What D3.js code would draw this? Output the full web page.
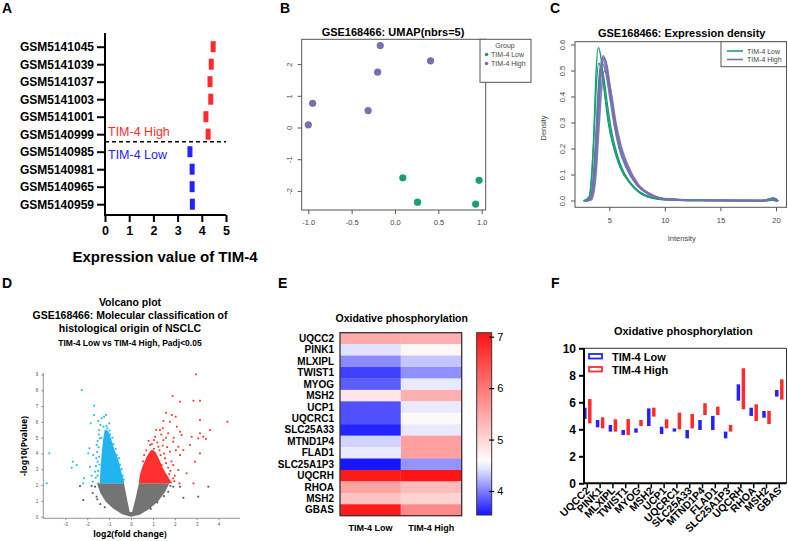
<!DOCTYPE html>
<html>
<head>
<meta charset="utf-8">
<script src="https://cdn.jsdelivr.net/npm/d3@7"></script>
<style>
body { margin: 0; background: #fff; }
svg { display: block; }
text { font-family: "Liberation Sans", Arial, sans-serif; }
</style>
</head>
<body>
<svg id="fig" width="788" height="541"></svg>
<script>
// ---- data ----
// A: TIM-4 expression per sample
const aSamples = ["GSM5141045", "GSM5141039", "GSM5141037", "GSM5141003", "GSM5141001", "GSM5140999", "GSM5140985", "GSM5140981", "GSM5140965", "GSM5140959"];
const aValues = [4.47, 4.39, 4.34, 4.37, 4.17, 4.26, 3.51, 3.6, 3.6, 3.61];
const aGroups = ["High", "High", "High", "High", "High", "High", "Low", "Low", "Low", "Low"];

// B: UMAP coordinates
const umapX = [-0.17, 0.41, -0.2, -0.95, -0.31, -1.0, 0.09, 0.97, 0.26, 0.93];
const umapY = [2.6, 2.12, 1.76, 0.78, 0.55, 0.1, -1.57, -1.65, -2.34, -2.4];
const umapGroups = ["High", "High", "High", "High", "High", "High", "Low", "Low", "Low", "Low"];

// C: density curves, [intensity, density]
const densLow = [
	[[2.66, 0], [3.19, 0.017], [3.4, 0.096], [3.61, 0.26], [3.79, 0.48], [4.01, 0.59], [4.22, 0.56], [4.52, 0.44], [4.91, 0.3], [5.36, 0.21], [5.96, 0.13], [6.86, 0.068], [8.06, 0.023], [9.86, 0.005], [12.85, 0.002], [19.0, 0.001], [19.7, 0.004], [20.1, 0]],
	[[2.7, 0], [3.2, 0.015], [3.4, 0.08], [3.6, 0.23], [3.8, 0.42], [4.05, 0.53], [4.3, 0.5], [4.6, 0.41], [5.0, 0.29], [5.4, 0.21], [6.0, 0.135], [6.9, 0.07], [8.0, 0.027], [9.9, 0.006], [12.9, 0.002], [19.0, 0.001], [19.7, 0.003], [20.1, 0]],
	[[2.8, 0], [3.3, 0.01], [3.5, 0.06], [3.75, 0.22], [4.0, 0.43], [4.2, 0.52], [4.45, 0.49], [4.8, 0.38], [5.2, 0.27], [5.7, 0.18], [6.3, 0.11], [7.2, 0.055], [8.3, 0.022], [10.0, 0.006], [13.0, 0.002], [19.0, 0.001], [19.7, 0.004], [20.1, 0]]
];
const densHigh = [
	[[2.8, 0], [3.22, 0.005], [3.67, 0.11], [4.01, 0.35], [4.22, 0.5], [4.46, 0.558], [4.76, 0.52], [5.06, 0.42], [5.51, 0.29], [5.96, 0.2], [6.56, 0.13], [7.46, 0.064], [8.65, 0.025], [9.86, 0.008], [12.85, 0.003], [18.8, 0.002], [19.8, 0.01], [20.2, 0]],
	[[2.9, 0], [3.35, 0.006], [3.75, 0.11], [4.05, 0.33], [4.3, 0.5], [4.5, 0.55], [4.8, 0.52], [5.1, 0.43], [5.55, 0.3], [6.0, 0.21], [6.6, 0.135], [7.5, 0.066], [8.7, 0.026], [9.9, 0.009], [12.9, 0.003], [18.8, 0.002], [19.8, 0.011], [20.2, 0]],
	[[2.8, 0], [3.2, 0.006], [3.6, 0.1], [3.95, 0.34], [4.15, 0.48], [4.35, 0.53], [4.65, 0.5], [5.0, 0.41], [5.45, 0.29], [5.9, 0.2], [6.5, 0.13], [7.4, 0.065], [8.6, 0.025], [9.9, 0.008], [12.9, 0.003], [18.8, 0.002], [19.8, 0.009], [20.2, 0]],
	[[2.9, 0], [3.4, 0.005], [3.8, 0.1], [4.1, 0.3], [4.35, 0.45], [4.55, 0.5], [4.85, 0.48], [5.2, 0.41], [5.6, 0.3], [6.05, 0.215], [6.7, 0.135], [7.6, 0.065], [8.8, 0.025], [10.0, 0.008], [13.0, 0.003], [18.8, 0.002], [19.8, 0.008], [20.2, 0]],
	[[2.8, 0], [3.25, 0.005], [3.65, 0.11], [4.0, 0.36], [4.2, 0.5], [4.4, 0.55], [4.7, 0.51], [5.05, 0.42], [5.5, 0.29], [5.95, 0.2], [6.55, 0.13], [7.45, 0.064], [8.65, 0.025], [9.9, 0.008], [12.9, 0.003], [18.8, 0.002], [19.8, 0.01], [20.2, 0]]
];

// D: volcano, dense clouds as outlines + single points, [log2FC, -log10P]
const volcGrayCloud = [[-1.55, 2.11], [-1.4, 1.5], [-1.15, 0.95], [-0.8, 0.5], [-0.4, 0.15], [0, 0], [0.4, 0.12], [0.85, 0.5], [1.25, 1.0], [1.55, 1.55], [1.75, 2.11], [0.36, 2.11], [0.2, 1.1], [0.05, 0.3], [-0.06, 0.3], [-0.18, 1.1], [-0.32, 2.11]];
const volcBlueCloud = [[-1.42, 2.11], [-1.4, 2.9], [-1.36, 3.6], [-1.32, 4.3], [-1.27, 4.9], [-1.2, 5.5], [-1.05, 5.45], [-0.9, 4.9], [-0.75, 4.2], [-0.58, 3.6], [-0.45, 2.9], [-0.3, 2.11]];
const volcRedCloud = [[0.36, 2.11], [0.4, 2.6], [0.5, 3.1], [0.62, 3.5], [0.78, 3.95], [0.95, 4.25], [1.12, 4.1], [1.28, 3.65], [1.45, 3.1], [1.65, 2.6], [1.88, 2.11]];
const volcBlue = [[-2.25, 8.02], [-1.68, 7.03], [-1.69, 6.44], [-1.84, 5.91], [-1.49, 6.06], [-1.23, 6.33], [-1.14, 6.44], [-1.34, 6.23], [-0.99, 5.91], [-3.73, 4.01], [-2.66, 3.48], [-2.71, 3.1], [-2.48, 3.27], [-3.85, 2.11], [-1.95, 4.01], [-1.9, 4.33], [-1.72, 3.9], [-2.15, 2.43], [-2.18, 2.11], [-1.75, 2.22], [-1.64, 2.85], [-1.87, 3.16], [-1.57, 4.54], [-1.52, 3.48], [-1.42, 4.96], [-1.61, 2.47], [-1.49, 2.11], [-1.34, 2.32], [-1.45, 5.49], [-1.26, 5.7], [-1.08, 5.59], [-1.5, 2.9], [-1.55, 4.1], [-1.45, 3.8], [-1.48, 4.4], [-1.47, 5.2], [-1.12, 5.75], [-0.95, 5.2], [-0.8, 4.6], [-0.65, 3.9], [-0.5, 3.3], [-0.38, 2.6], [-1.6, 3.2], [-1.8, 2.6], [-1.53, 2.6], [-1.58, 3.7], [-1.44, 3.3], [-1.52, 4.8], [-1.35, 5.0], [-1.4, 5.8], [-0.98, 5.45], [-0.85, 5.0], [-0.7, 4.3], [-0.55, 3.7], [-0.42, 3.0], [-0.33, 2.35]];
const volcRed = [[2.97, 9.01], [1.9, 7.64], [2.24, 7.28], [2.85, 7.34], [3.15, 7.34], [3.15, 6.12], [4.4, 6.01], [3.61, 5.49], [3.15, 5.28], [3.3, 5.06], [3.42, 4.92], [3.07, 4.96], [3.15, 4.01], [2.92, 3.48], [2.54, 2.75], [2.85, 2.11], [2.21, 2.11], [2.69, 4.54], [2.77, 5.06], [2.24, 5.38], [2.09, 5.7], [1.86, 6.44], [1.6, 6.58], [2.04, 6.33], [2.31, 5.17], [2.16, 4.43], [2.24, 3.9], [1.93, 3.27], [2.16, 2.96], [1.63, 2.53], [1.48, 6.06], [1.78, 6.01], [1.32, 5.49], [1.7, 5.28], [1.93, 4.75], [1.48, 4.85], [1.1, 5.06], [1.25, 4.43], [1.78, 4.11], [1.55, 3.7], [1.93, 2.43], [0.87, 4.54], [1.02, 4.01], [0.72, 3.7], [1.4, 3.27], [2.39, 4.22], [1.2, 4.7], [1.05, 4.3], [0.9, 4.1], [1.35, 3.9], [1.65, 4.4], [1.85, 3.5], [1.7, 3.1], [1.75, 2.7], [1.55, 2.4], [1.45, 5.6], [1.95, 5.0], [2.05, 4.2], [0.6, 3.9], [0.8, 4.8], [1.15, 5.5], [1.6, 5.0], [0.7, 4.2], [0.95, 4.6], [1.3, 4.2], [1.45, 4.5], [1.6, 3.4], [1.8, 2.9], [2.0, 2.6], [1.98, 2.25], [1.38, 5.2], [1.05, 4.85], [0.55, 3.5], [1.5, 4.0]];
const volcGray = [[3.07, 1.27], [3.53, 1.9], [2.39, 1.2], [2.24, 1.9], [1.93, 1.9], [1.7, 1.58], [-2.18, 1.05], [-2.33, 1.94], [-1.64, 1.9], [-1.57, 1.27], [-1.54, 1.1], [-1.75, 1.5], [-1.4, 0.8], [1.5, 1.3], [1.2, 0.9], [-1.8, 1.95], [1.8, 1.95], [-1.2, 0.6], [0.9, 0.5]];

// E / F: oxidative phosphorylation genes
const genes = ["UQCC2", "PINK1", "MLXIPL", "TWIST1", "MYOG", "MSH2", "UCP1", "UQCRC1", "SLC25A33", "MTND1P4", "FLAD1", "SLC25A1P3", "UQCRH", "RHOA", "MSH2", "GBAS"];
const heatLow = [5.45, 4.42, 4.05, 3.73, 3.85, 4.83, 3.8, 3.8, 3.61, 4.36, 4.46, 3.55, 7.01, 5.54, 5.2, 6.97];
const heatHigh = [5.4, 4.65, 4.3, 4.07, 4.46, 5.4, 4.46, 4.63, 4.46, 5.57, 5.57, 4.09, 7.05, 5.29, 5.03, 5.82];
const lowMin = [4.76, 4.15, 3.83, 3.58, 3.75, 4.24, 3.65, 3.83, 3.33, 3.95, 3.95, 3.33, 6.12, 4.99, 4.86, 6.42];
const lowMax = [5.6, 4.69, 4.32, 3.95, 4.07, 5.55, 4.19, 4.07, 3.95, 4.69, 4.99, 3.83, 7.33, 5.6, 5.36, 6.91];
const highMin = [4.44, 4.07, 3.83, 3.58, 4.24, 4.94, 4.07, 4.0, 4.07, 5.06, 5.06, 3.83, 5.48, 4.61, 4.39, 6.2];
const highMax = [6.24, 4.89, 4.74, 4.76, 4.69, 5.6, 4.74, 5.23, 5.13, 5.93, 5.68, 4.32, 8.52, 5.85, 5.36, 7.7];

const RED = "#ff2a2a";
const BLUE = "#2222ff";
const intFmt = d3.format("d");

const svg = d3.select("#fig");

// panel letters
[["A", 2, 13], ["B", 280, 13], ["C", 550, 13], ["D", 2, 288], ["E", 278, 288], ["F", 551, 288]].forEach(([t, x, y]) => {
	svg.append("text").attr("x", x).attr("y", y).attr("font-size", 14).attr("font-weight", "bold").text(t);
});

// ---- A ----
const ax = d3.scaleLinear().domain([0, 5]).range([105, 226]);
const ay = d3.scalePoint().domain(aSamples).range([46.7, 204.2]);
const gA = svg.append("g");

gA.append("g")
	.attr("transform", "translate(105,0)")
	.call(d3.axisLeft(ay).tickSize(8).tickPadding(3))
	.call((g) => g.select(".domain").remove())
	.call((g) => g.selectAll("line").attr("stroke-width", 2))
	.call((g) => g.selectAll("text").attr("font-size", 12).attr("font-weight", "bold").attr("font-family", "Liberation Sans"));
gA.append("g")
	.attr("transform", "translate(0,215)")
	.call(d3.axisBottom(ax).ticks(5).tickFormat(intFmt).tickSize(7).tickPadding(4))
	.call((g) => g.select(".domain").remove())
	.call((g) => g.selectAll("line").attr("stroke-width", 2))
	.call((g) => g.selectAll("text").attr("font-size", 12.5).attr("font-weight", "bold").attr("font-family", "Liberation Sans"));
gA.append("path").attr("d", "M105,33V215H226").attr("fill", "none").attr("stroke", "#000").attr("stroke-width", 2);

gA.selectAll(".abar")
	.data(aSamples)
	.join("rect")
	.attr("x", (d, i) => ax(aValues[i]) - 2.5)
	.attr("y", (d) => ay(d) - 5.5)
	.attr("width", 5)
	.attr("height", 11)
	.attr("fill", (d, i) => (aGroups[i] === "High" ? RED : BLUE));

gA.append("line").attr("x1", 105).attr("x2", 226).attr("y1", 141.7).attr("y2", 141.7)
	.attr("stroke", "#000").attr("stroke-width", 1.5).attr("stroke-dasharray", "4,3");
gA.append("text").attr("x", 108).attr("y", 136).attr("font-size", 12.5).attr("fill", RED).text("TIM-4 High");
gA.append("text").attr("x", 108).attr("y", 159).attr("font-size", 12.5).attr("fill", BLUE).text("TIM-4 Low");
gA.append("text").attr("x", 165).attr("y", 262).attr("text-anchor", "middle")
	.attr("font-size", 15).attr("font-weight", "bold").text("Expression value of TIM-4");

// ---- B ----
const GREEN = "#1b9e77";
const PURPLE = "#7570b3";
const bx = d3.scaleLinear().domain([-1, 1]).range([308.3, 481.7]);
const by = d3.scaleLinear().domain([0, 2]).range([128, 64.6]);
const gB = svg.append("g").attr("fill", "#444");

gB.append("text").attr("x", 393).attr("y", 36).attr("text-anchor", "middle")
	.attr("font-size", 11).attr("font-weight", "bold").attr("fill", "#000").text("GSE168466: UMAP(nbrs=5)");
gB.append("rect").attr("x", 301.7).attr("y", 39.3).attr("width", 184).attr("height", 170.7)
	.attr("fill", "none").attr("stroke", "#555");

const bxAxis = gB.append("g").attr("transform", "translate(0,210)")
	.call(d3.axisBottom(bx).tickValues([-1, -0.5, 0, 0.5, 1]).tickFormat((d) => d3.format(".1f")(d).replace("−", "-")).tickSize(4).tickPadding(6));
const byAxis = gB.append("g").attr("transform", "translate(301.7,0)")
	.call(d3.axisLeft(by).tickValues([-2, -1, 0, 1, 2]).tickFormat((d) => String(d)).tickSize(4).tickPadding(8));
[bxAxis, byAxis].forEach((g) => {
	g.select(".domain").remove();
	g.selectAll("line").attr("stroke", "#555");
	g.selectAll("text").attr("fill", "#444").attr("font-size", 7.5).attr("font-family", "Liberation Sans");
});
byAxis.selectAll(".tick").attr("transform", null);
byAxis.selectAll(".tick line").attr("y1", (d) => by(d)).attr("y2", (d) => by(d));
byAxis.selectAll("text")
	.attr("text-anchor", "middle").attr("dy", null).attr("dominant-baseline", "middle")
	.attr("x", -12).attr("y", (d) => by(d)).attr("transform", (d) => `rotate(-90,-12,${by(d)})`);

gB.selectAll(".dot")
	.data(umapX)
	.join("circle")
	.attr("cx", (d) => bx(d))
	.attr("cy", (d, i) => by(umapY[i]))
	.attr("r", 3.6)
	.attr("fill", (d, i) => (umapGroups[i] === "High" ? PURPLE : GREEN));

const gBL = gB.append("g");
gBL.append("rect").attr("x", 480).attr("y", 39.3).attr("width", 51).attr("height", 43).attr("fill", "#fff").attr("stroke", "#555");
gBL.append("text").attr("x", 505).attr("y", 48).attr("text-anchor", "middle").attr("font-size", 7).text("Group");
[["TIM-4 Low", GREEN, 57], ["TIM-4 High", PURPLE, 66]].forEach(([t, c, y]) => {
	gBL.append("circle").attr("cx", 486.5).attr("cy", y - 2.5).attr("r", 1.8).attr("fill", c);
	gBL.append("text").attr("x", 491).attr("y", y).attr("font-size", 7).text(t);
});

// ---- C ----
const cx = d3.scaleLinear().domain([5, 20]).range([609.3, 776]);
const cy = d3.scaleLinear().domain([0, 0.6]).range([201, 45]);
const gC = svg.append("g");
gC.append("text").attr("x", 681.7).attr("y", 37).attr("text-anchor", "middle")
	.attr("font-size", 11).attr("font-weight", "bold").text("GSE168466: Expression density");

const line = d3.line().x((d) => cx(d[0])).y((d) => cy(d[1])).curve(d3.curveMonotoneX);
densLow.forEach((s) => {
	gC.append("path").attr("d", line(s)).attr("fill", "none").attr("stroke", GREEN).attr("stroke-width", 1.4);
});
densHigh.forEach((s) => {
	gC.append("path").attr("d", line(s)).attr("fill", "none").attr("stroke", PURPLE).attr("stroke-width", 1.6).attr("stroke-opacity", 0.9);
});

gC.append("rect").attr("x", 575).attr("y", 41.7).attr("width", 211.5).attr("height", 165.6)
	.attr("fill", "none").attr("stroke", "#555");
const cxAxis = gC.append("g").attr("transform", "translate(0,207.3)")
	.call(d3.axisBottom(cx).tickValues([5, 10, 15, 20]).tickFormat(intFmt).tickSize(4).tickPadding(6));
const cyAxis = gC.append("g").attr("transform", "translate(575,0)")
	.call(d3.axisLeft(cy).tickValues([0, 0.1, 0.2, 0.3, 0.4, 0.5, 0.6]).tickFormat(d3.format(".1f")).tickSize(4));
[cxAxis, cyAxis].forEach((g) => {
	g.select(".domain").remove();
	g.selectAll("line").attr("stroke", "#555");
	g.selectAll("text").attr("fill", "#444").attr("font-size", 7.5).attr("font-family", "Liberation Sans");
});
cyAxis.selectAll(".tick").attr("transform", null);
cyAxis.selectAll(".tick line").attr("y1", (d) => cy(d)).attr("y2", (d) => cy(d));
cyAxis.selectAll("text")
	.attr("text-anchor", "middle").attr("dy", null).attr("dominant-baseline", "middle")
	.attr("x", -12).attr("y", (d) => cy(d)).attr("transform", (d) => `rotate(-90,-12,${cy(d)})`);

gC.append("text").attr("transform", "translate(546,128) rotate(-90)").attr("text-anchor", "middle")
	.attr("font-size", 7.5).attr("fill", "#444").text("Density");
gC.append("text").attr("x", 681.7).attr("y", 241).attr("text-anchor", "middle")
	.attr("font-size", 7.5).attr("fill", "#444").text("Intensity");

gC.append("rect").attr("x", 721).attr("y", 41.7).attr("width", 65.5).attr("height", 25).attr("fill", "#fff").attr("stroke", "#555");
[["TIM-4 Low", GREEN, 51], ["TIM-4 High", PURPLE, 59.5]].forEach(([t, c, y]) => {
	gC.append("line").attr("x1", 727).attr("x2", 743).attr("y1", y).attr("y2", y).attr("stroke", c).attr("stroke-width", 1.6);
	gC.append("text").attr("x", 747).attr("y", y + 2.5).attr("font-size", 7).attr("fill", "#444").text(t);
});

// ---- D ----
const dx = d3.scaleLinear().domain([0, 1]).range([131, 152.9]);
const dy = d3.scaleLinear().domain([0, 9]).range([516.7, 374.5]);
const gD = svg.append("g");
const nsFont = "'Noto Sans', sans-serif";
[["Volcano plot", 306], ["GSE168466: Molecular classification of", 319], ["histological origin of NSCLC", 332]].forEach(([t, y]) => {
	gD.append("text").attr("x", 130).attr("y", y).attr("text-anchor", "middle").attr("font-size", 10.5)
		.attr("font-weight", "bold").text(t);
});
gD.append("text").attr("x", 130).attr("y", 346).attr("text-anchor", "middle").attr("font-size", 8.5)
	.attr("font-weight", "bold").text("TIM-4 Low vs TIM-4 High, Padj<0.05");

const poly = d3.line().x((d) => dx(d[0])).y((d) => dy(d[1]));
gD.append("path").attr("d", poly(volcGrayCloud) + "Z").attr("fill", "#747474");
gD.append("path").attr("d", poly(volcBlueCloud) + "Z").attr("fill", "#22b4ee");
gD.append("path").attr("d", poly(volcRedCloud) + "Z").attr("fill", "#ff3030");
[[volcGray, "#555"], [volcBlue, "#22b4ee"], [volcRed, "#ff3030"]].forEach(([pts, c]) => {
	gD.append("g").selectAll("rect")
		.data(pts)
		.join("rect")
		.attr("x", (d) => dx(d[0]) - 0.9)
		.attr("y", (d) => dy(d[1]) - 0.9)
		.attr("width", 1.8)
		.attr("height", 1.8)
		.attr("fill", c);
});

const dxAxis = gD.append("g").attr("transform", "translate(0,518.3)")
	.call(d3.axisBottom(dx).tickValues([-3, -2, -1, 0, 1, 2, 3, 4]).tickFormat((d) => String(d)).tickSize(2).tickPadding(3).tickSizeOuter(0));
const dyAxis = gD.append("g").attr("transform", "translate(43.3,0)")
	.call(d3.axisLeft(dy).tickValues(d3.range(0, 10)).tickFormat((d) => String(d)).tickSize(2).tickPadding(3).tickSizeOuter(0));
dxAxis.select(".domain").attr("d", "M43.3,0H240");
dyAxis.select(".domain").attr("d", "M0,373V518.3");
[dxAxis, dyAxis].forEach((g) => {
	g.selectAll("path,line").attr("stroke", "#666").attr("stroke-width", 0.7);
	g.selectAll("text").attr("font-size", 4.5).attr("fill", "#555");
});
gD.append("text").attr("x", 130).attr("y", 537).attr("text-anchor", "middle").attr("font-size", 8.5)
	.attr("font-weight", "bold").style("font-family", nsFont).text("log2(fold change)");
gD.append("text").attr("transform", "translate(27,446) rotate(-90)").attr("text-anchor", "middle").attr("font-size", 8.5)
	.attr("font-weight", "bold").style("font-family", nsFont).text("-log10(Pvalue)");

// ---- E ----
const ex = d3.scaleBand().domain(["Low", "High"]).range([340, 461.7]);
const ey = d3.scaleBand().domain(d3.range(genes.length)).range([332.7, 515.7]);
const ecol = d3.scaleLinear().domain([3.54, 4.55, 7.08]).range(["#1414ff", "#ffffff", "#ff1212"]).clamp(true);
const gE = svg.append("g");
gE.append("text").attr("x", 401.7).attr("y", 322).attr("text-anchor", "middle")
	.attr("font-size", 10.5).attr("font-weight", "bold").text("Oxidative phosphorylation");

const cells = [];
genes.forEach((g, i) => {
	cells.push({ row: i, col: "Low", v: heatLow[i] });
	cells.push({ row: i, col: "High", v: heatHigh[i] });
});
gE.selectAll(".cell")
	.data(cells)
	.join("rect")
	.attr("x", (d) => ex(d.col))
	.attr("y", (d) => ey(d.row))
	.attr("width", ex.bandwidth())
	.attr("height", ey.bandwidth() + 0.3)
	.attr("fill", (d) => ecol(d.v));
gE.append("rect").attr("x", 340).attr("y", 332.7).attr("width", 121.7).attr("height", 183)
	.attr("fill", "none").attr("stroke", "#333").attr("stroke-width", 1.3);
gE.selectAll(".rowlab")
	.data(genes)
	.join("text")
	.attr("x", 334)
	.attr("y", (d, i) => ey(i) + ey.bandwidth() / 2)
	.attr("dy", "0.35em")
	.attr("text-anchor", "end")
	.attr("font-size", 10)
	.attr("font-weight", "bold")
	.text((d) => d);
[["TIM-4 Low", "Low"], ["TIM-4 High", "High"]].forEach(([t, k]) => {
	gE.append("text").attr("x", ex(k) + ex.bandwidth() / 2).attr("y", 530.5).attr("text-anchor", "middle")
		.attr("font-size", 9).attr("font-weight", "bold").text(t);
});

// colour bar
const cbY = d3.scaleLinear().domain([4, 7]).range([491, 336.7]);
const grad = svg.append("defs").append("linearGradient").attr("id", "cbar")
	.attr("x1", 0).attr("y1", 1).attr("x2", 0).attr("y2", 0);
d3.range(0, 1.0001, 0.05).forEach((t) => {
	const v = cbY.invert(515 + t * (332.7 - 515));
	grad.append("stop").attr("offset", t).attr("stop-color", ecol(v));
});
gE.append("rect").attr("x", 476.7).attr("y", 332.7).attr("width", 15).attr("height", 182.3)
	.attr("fill", "url(#cbar)").attr("stroke", "#333").attr("stroke-width", 1);
const cbAxis = gE.append("g").attr("transform", "translate(491.7,0)")
	.call(d3.axisRight(cbY).tickValues([4, 5, 6, 7]).tickFormat(intFmt).tickSize(2.5).tickPadding(3));
cbAxis.select(".domain").remove();
cbAxis.selectAll("line").attr("x1", -2.5).attr("stroke", "#000").attr("stroke-width", 1.2);
cbAxis.selectAll("text").attr("font-size", 11).attr("font-family", "Liberation Sans");

// ---- F ----
const fx = d3.scaleBand().domain(d3.range(genes.length)).range([580.9, 785.7]);
const fy = d3.scaleLinear().domain([0, 10]).range([483.3, 348.3]);
const gF = svg.append("g");
gF.append("text").attr("x", 683.3).attr("y", 334.5).attr("text-anchor", "middle")
	.attr("font-size", 11).attr("font-weight", "bold").text("Oxidative phosphorylation");
gF.append("path").attr("d", "M584,348.3H786.5V483.3").attr("fill", "none").attr("stroke", "#333").attr("stroke-width", 1);

const fc = (i) => fx(i) + fx.bandwidth() / 2;
gF.selectAll(".lowbar")
	.data(genes)
	.join("rect")
	.attr("x", (d, i) => fc(i) - 2.5 - 1.75)
	.attr("y", (d, i) => fy(lowMax[i]))
	.attr("width", 3.5)
	.attr("height", (d, i) => fy(lowMin[i]) - fy(lowMax[i]))
	.attr("fill", BLUE);
gF.selectAll(".highbar")
	.data(genes)
	.join("rect")
	.attr("x", (d, i) => fc(i) + 2.5 - 1.75)
	.attr("y", (d, i) => fy(highMax[i]))
	.attr("width", 3.5)
	.attr("height", (d, i) => fy(highMin[i]) - fy(highMax[i]))
	.attr("fill", RED);

const fyAxis = gF.append("g").attr("transform", "translate(584,0)")
	.call(d3.axisLeft(fy).tickValues([0, 2, 4, 6, 8, 10]).tickFormat(intFmt).tickSize(5).tickPadding(3));
fyAxis.select(".domain").remove();
fyAxis.selectAll("line").attr("stroke-width", 2);
fyAxis.selectAll("text").attr("font-size", 12).attr("font-weight", "bold").attr("font-family", "Liberation Sans");
const fxAxis = gF.append("g").attr("transform", "translate(0,483.3)")
	.call(d3.axisBottom(fx).tickFormat((i) => genes[i]).tickSize(5));
fxAxis.select(".domain").remove();
fxAxis.selectAll("line").attr("stroke-width", 1.5);
fxAxis.selectAll("text")
	.attr("font-size", 10.5).attr("font-weight", "bold").attr("font-family", "Liberation Sans")
	.attr("text-anchor", "end").attr("dy", null).attr("y", 0)
	.attr("transform", "translate(3,8) rotate(-45)");
gF.append("path").attr("d", "M584,348.3V483.3H786.5").attr("fill", "none").attr("stroke", "#000").attr("stroke-width", 2);

[["TIM-4 Low", BLUE, 356.5], ["TIM-4 High", RED, 369.5]].forEach(([t, c, y]) => {
	gF.append("rect").attr("x", 589).attr("y", y - 2.5).attr("width", 13).attr("height", 4.5)
		.attr("fill", "#fff").attr("stroke", c).attr("stroke-width", 1.8);
	gF.append("text").attr("x", 612).attr("y", y + 4).attr("font-size", 11).attr("font-weight", "bold").text(t);
});
</script>
</body>
</html>
